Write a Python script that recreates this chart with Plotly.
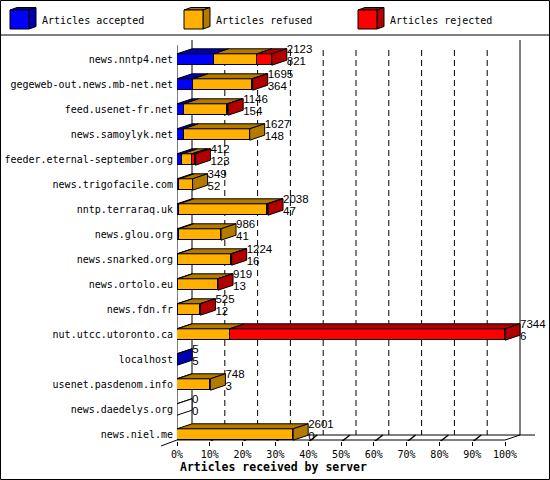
import plotly.graph_objects as go

# ---------------- data ----------------
servers = [
    "news.nntp4.net", "gegeweb-out.news.mb-net.net", "feed.usenet-fr.net",
    "news.samoylyk.net", "feeder.eternal-september.org", "news.trigofacile.com",
    "nntp.terraraq.uk", "news.glou.org", "news.snarked.org", "news.ortolo.eu",
    "news.fdn.fr", "nut.utcc.utoronto.ca", "localhost", "usenet.pasdenom.info",
    "news.daedelys.org", "news.niel.me",
]
accepted = [821, 364, 154, 148, 123, 52, 47, 41, 16, 13, 12, 6, 5, 3, 0, 0]
refused = [970, 1316, 972, 1479, 215, 297, 1971, 945, 1193, 896, 498, 1172, 0, 745, 0, 2601]
rejected = [332, 15, 20, 0, 74, 0, 20, 0, 15, 10, 15, 6166, 0, 0, 0, 0]
series_names = ["Articles accepted", "Articles refused", "Articles rejected"]
pct_ticks = [0, 10, 20, 30, 40, 50, 60, 70, 80, 90, 100]
x_title = "Articles received by server"

# ---------------- styling / geometry ----------------
FRONT = ["#0000FF", "#FFB000", "#FF0000"]
DARK = ["#0000B2", "#B27B00", "#B20000"]
W, H = 550, 480
L, R, T, B = 177, 5, 40, 39
PW, PH = W - L - R, H - T - B
n = len(servers)
series = [accepted, refused, rejected]
totals = [a + b + c for a, b, c in zip(accepted, refused, rejected)]
XMAX = max(totals)
UPX = XMAX / 328.0          # value units per pixel
ROW = 25.0                  # pixels per category
Y_TOP = -0.78
DX = 15 * UPX
DY = 5 / ROW
HALF = 5.7 / ROW
X_RANGE = [0, PW * UPX]
Y_RANGE = [Y_TOP + PH / ROW, Y_TOP]
Y_FLOOR = Y_TOP + 400 / ROW


def xp(px):
    return (px - L) / PW


def yp(py):
    return 1 - (py - T) / PH


fig = go.Figure()

# front faces
for k in range(3):
    fig.add_trace(go.Bar(
        y=list(range(n)), x=series[k], orientation="h", width=2 * HALF,
        marker=dict(color=FRONT[k], line=dict(color="black", width=1)),
        showlegend=False, hoverinfo="skip",
    ))

# top faces and side faces
top_polys = {c: ([], []) for c in DARK + ["white"]}
side_polys = {c: ([], []) for c in DARK + ["white"]}
for i in range(n):
    yt, yb = i - HALF, i + HALF
    start = 0
    last = None
    for k in range(3):
        v = series[k][i]
        if v > 0:
            xs, ys = top_polys[DARK[k]]
            xs += [start, start + v, start + v + DX, start + DX, start, None]
            ys += [yt, yt, yt - DY, yt - DY, yt, None]
            last = DARK[k]
        start += v
    if last is None:
        last = "white"
        xs, ys = top_polys["white"]
        xs += [0, 0, DX, DX, 0, None]
        ys += [yt, yt, yt - DY, yt - DY, yt, None]
    t = totals[i]
    xs, ys = side_polys[last]
    xs += [t, t + DX, t + DX, t, t, None]
    ys += [yt, yt - DY, yb - DY, yb, yt, None]

for polys in (top_polys, side_polys):
    for c, (xs, ys) in polys.items():
        if xs:
            fig.add_trace(go.Scatter(
                x=xs, y=ys, mode="lines", fill="toself", fillcolor=c,
                line=dict(color="black", width=1), hoverinfo="skip",
                showlegend=False,
            ))

# value labels
fig.add_trace(go.Scatter(
    x=[t + DX for t in totals], y=[i - 0.39 for i in range(n)], mode="text",
    text=[str(t) for t in totals], textposition="middle right",
    textfont=dict(family="Liberation Sans", size=11.5, color="black"),
    cliponaxis=False, showlegend=False, hoverinfo="skip",
))
fig.add_trace(go.Scatter(
    x=[t + DX for t in totals], y=[i + 0.09 for i in range(n)], mode="text",
    text=[str(a) for a in accepted], textposition="middle right",
    textfont=dict(family="Liberation Sans", size=11.5, color="black"),
    cliponaxis=False, showlegend=False, hoverinfo="skip",
))

# walls / grid (below traces)
shapes = []
line = dict(color="black", width=1)
tick_vals = [p / 100 * XMAX for p in pct_ticks]
shapes.append(dict(type="line", xref="x", yref="y", x0=0, x1=0, y0=Y_TOP + DY, y1=Y_FLOOR, line=line, layer="below"))
shapes.append(dict(type="line", xref="x", yref="y", x0=DX, x1=DX, y0=Y_TOP, y1=Y_FLOOR - DY, line=line, layer="below"))
shapes.append(dict(type="line", xref="x", yref="y", x0=XMAX + DX, x1=XMAX + DX, y0=Y_TOP, y1=Y_FLOOR - DY, line=line, layer="below"))
shapes.append(dict(type="line", xref="x", yref="y", x0=DX, x1=358 * UPX, y0=Y_FLOOR - DY, y1=Y_FLOOR - DY, line=line, layer="below"))
shapes.append(dict(type="line", xref="x", yref="y", x0=0, x1=XMAX, y0=Y_FLOOR, y1=Y_FLOOR, line=line, layer="below"))
shapes.append(dict(type="line", xref="x", yref="y", x0=XMAX, x1=XMAX + DX, y0=Y_FLOOR, y1=Y_FLOOR - DY, line=line, layer="below"))
for tv in tick_vals[1:-1]:
    shapes.append(dict(type="line", xref="x", yref="y", x0=tv + DX, x1=tv + DX, y0=Y_TOP + 0.4,
                       y1=Y_FLOOR - DY, line=dict(color="black", width=1, dash="6px,4px"), layer="below"))
    shapes.append(dict(type="line", xref="x", yref="y", x0=tv + 1 * UPX, x1=tv + 9 * UPX, y0=Y_FLOOR + 0.05,
                       y1=Y_FLOOR - DY, line=dict(color="black", width=1.5), layer="below"))
# little diagonal at bottom-left
shapes.append(dict(type="line", xref="paper", yref="paper", x0=xp(161), y0=yp(446), x1=xp(177), y1=yp(440), line=line))

# legend box
shapes.append(dict(type="line", xref="paper", yref="paper", x0=xp(0), x1=xp(550), y0=yp(35), y1=yp(35), line=line))
shapes.append(dict(type="rect", xref="paper", yref="paper", x0=xp(0.5), x1=xp(549.5), y0=yp(0.5), y1=yp(479.5), line=line))


def path(pts):
    return "M " + " L ".join(f"{xp(a)},{yp(b)}" for a, b in pts) + " Z"


annotations = []
for k, x0 in enumerate([10, 184, 358]):
    shapes.append(dict(type="path", xref="paper", yref="paper",
                       path=path([(x0, 10), (x0 + 19, 10), (x0 + 26, 7.5), (x0 + 7, 7.5)]),
                       fillcolor=DARK[k], line=line))
    shapes.append(dict(type="path", xref="paper", yref="paper",
                       path=path([(x0 + 19, 10), (x0 + 26, 7.5), (x0 + 26, 26.5), (x0 + 19, 29)]),
                       fillcolor=DARK[k], line=line))
    shapes.append(dict(type="path", xref="paper", yref="paper",
                       path=path([(x0, 10), (x0 + 19, 10), (x0 + 19, 29), (x0, 29)]),
                       fillcolor=FRONT[k], line=line))
    annotations.append(dict(xref="paper", yref="paper", x=xp(x0 + 30), y=yp(20), xanchor="left",
                            yanchor="middle", showarrow=False, text=series_names[k],
                            font=dict(family="DejaVu Sans Mono", size=10, color="black")))

annotations.append(dict(xref="paper", yref="paper", x=xp(178), y=yp(467), xanchor="left",
                        yanchor="middle", showarrow=False, text="<b>" + x_title + "</b>",
                        font=dict(family="DejaVu Sans Mono", size=11.5, color="black")))

fig.update_layout(
    width=W, height=H, autosize=False,
    margin=dict(l=L, r=R, t=T, b=B, pad=0),
    paper_bgcolor="white", plot_bgcolor="white",
    barmode="stack", bargap=0, showlegend=False,
    shapes=shapes, annotations=annotations,
    xaxis=dict(range=X_RANGE, tickvals=tick_vals, ticktext=[f"{p}%" for p in pct_ticks],
               ticks="outside", ticklen=4, tickcolor="black", showgrid=False, zeroline=False,
               showline=False, tickfont=dict(family="DejaVu Sans Mono", size=10, color="black"),
               fixedrange=True),
    yaxis=dict(range=Y_RANGE, tickvals=list(range(n)), ticktext=servers, ticks="",
               showgrid=False, zeroline=False, showline=False, ticklabelstandoff=3,
               tickfont=dict(family="DejaVu Sans Mono", size=10, color="black"), fixedrange=True),
    hovermode=False,
)

fig.write_html(
    "out.html",
    config={"displayModeBar": False},
    post_script="document.body.style.margin='0px';document.body.style.overflow='hidden';",
)
